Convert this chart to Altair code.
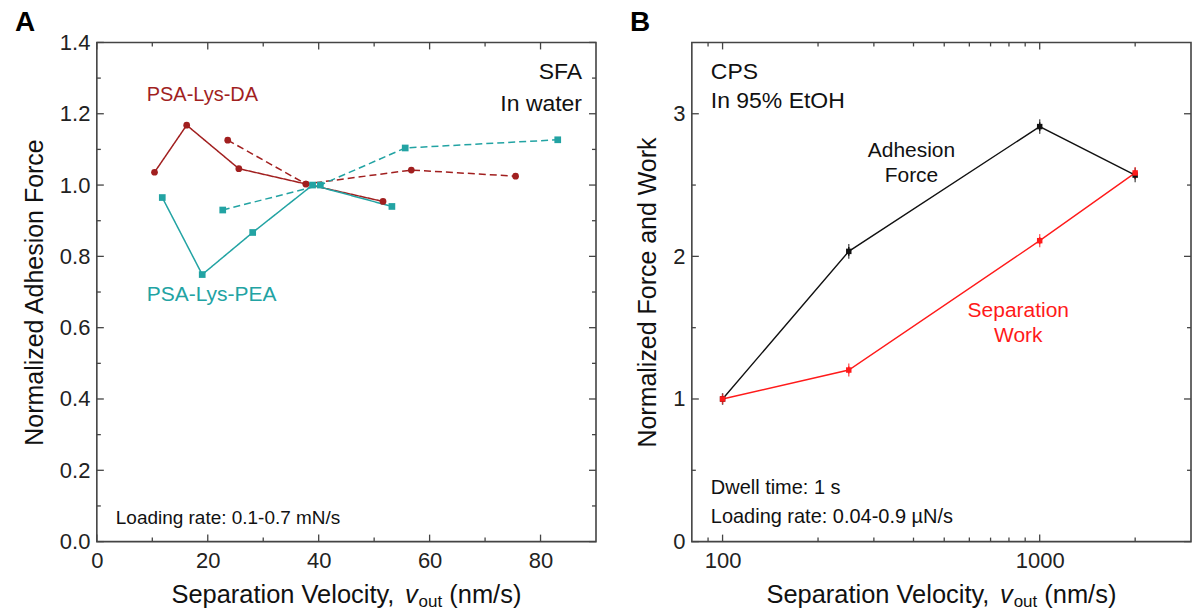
import altair as alt
import pandas as pd

FONT = "Liberation Sans"
DARKRED = "#A11F1F"
TEAL = "#22A3A3"
RED = "#FF1A1A"
FRAME = "#444444"

# ---------------- Panel A data (SFA, in water) ----------------
da_solid_x = [10.4, 16.2, 25.6, 37.7, 51.6]
da_solid_y = [1.036, 1.168, 1.046, 1.003, 0.954]
da_dash_x = [23.6, 37.7, 56.7, 75.5]
da_dash_y = [1.126, 1.003, 1.042, 1.025]
pea_solid_x = [11.8, 19.0, 28.1, 38.9, 53.2]
pea_solid_y = [0.965, 0.749, 0.867, 1.000, 0.940]
pea_dash_x = [22.7, 40.3, 55.6, 83.1]
pea_dash_y = [0.930, 1.000, 1.104, 1.127]

a_x_major = [0, 20, 40, 60, 80]
a_x_minor = [10, 30, 50, 70]
a_y_major = [0.0, 0.2, 0.4, 0.6, 0.8, 1.0, 1.2, 1.4]
a_y_minor = [0.1, 0.3, 0.5, 0.7, 0.9, 1.1, 1.3]

# ---------------- Panel B data (CPS, in 95% EtOH) ----------------
vel = [100, 250, 1000, 2000]
force = [1.0, 2.035, 2.91, 2.57]
force_err = [0.02, 0.03, 0.03, 0.03]
work = [1.0, 1.203, 2.11, 2.585]
work_err = [0.015, 0.025, 0.025, 0.02]

b_x_major = [100, 1000]
b_x_minor = [90, 200, 300, 400, 500, 600, 700, 800, 900, 2000]
b_y_major = [0, 1, 2, 3]
b_y_minor = [0.5, 1.5, 2.5]

W = 500
H = 500

xA = alt.Scale(domain=[0, 90], nice=False, zero=False)
yA = alt.Scale(domain=[0, 1.4], nice=False, zero=False)
xB = alt.Scale(type="log", domain=[80, 3000], nice=False)
yB = alt.Scale(domain=[0, 3.5], nice=False, zero=False)

axXA = alt.Axis(values=a_x_major, format="d", title=None, ticks=False, domain=False,
                grid=False, labelPadding=9, labelFlush=False)
axYA = alt.Axis(values=a_y_major, format=".1f", title="Normalized Adhesion Force",
                ticks=False, domain=False, grid=False, labelPadding=7, titlePadding=12,
                labelFlush=False)
axXB = alt.Axis(values=b_x_major, format="d", title=None, ticks=False, domain=False,
                grid=False, labelPadding=9, labelFlush=False)
axYB = alt.Axis(values=b_y_major, format="d", title="Normalized Force and Work",
                ticks=False, domain=False, grid=False, labelPadding=7, titlePadding=12,
                labelFlush=False)

AW = {'S': 667, 'e': 556, 'p': 556, 'a': 556, 'r': 333, 't': 278, 'i': 222,
      'o': 556, 'n': 556, ' ': 278, 'V': 667, 'l': 222, 'c': 500, 'y': 500,
      ',': 278, '(': 333, ')': 333, 'm': 833, '/': 278, 's': 500, 'u': 556,
      'v': 500}


def tw(s, size):
    return sum(AW.get(ch, 556) for ch in s) * size / 1000.0


def txt(s, x, y, size=20, color="#111111", align="left", baseline="middle",
        style="normal", weight="normal"):
    return alt.Chart(pd.DataFrame({"t": [s]})).mark_text(
        font=FONT, fontSize=size, color=color, align=align, baseline=baseline,
        fontStyle=style, fontWeight=weight
    ).encode(text="t:N", x=alt.value(x), y=alt.value(y))


def xtitle(ybase):
    big, small = 25.5, 17
    p1 = "Separation Velocity,"
    p2 = "v"
    p3 = "out"
    p4 = "(nm/s)"
    sp = tw(" ", big)
    total = tw(p1, big) + sp + tw(p2, big) + 1 + tw(p3, small) + sp + tw(p4, big)
    x0 = W / 2 - total / 2
    x1 = x0 + tw(p1, big) + sp
    x2 = x1 + tw(p2, big) + 1
    x3 = x2 + tw(p3, small) + sp
    return [
        txt(p1, x0, ybase, size=big, baseline="alphabetic"),
        txt(p2, x1, ybase, size=big, baseline="alphabetic", style="italic"),
        txt(p3, x2, ybase + 5, size=small, baseline="alphabetic"),
        txt(p4, x3, ybase, size=big, baseline="alphabetic"),
    ]


def tick_layers(xs, ys, axx, axy, xmaj, xmin, ymaj, ymin):
    layers = []
    for vals, ln in ((xmaj, 7), (xmin, 4)):
        d = pd.DataFrame({"v": vals})
        for y0, y1 in ((H, H - ln), (0, ln)):
            layers.append(alt.Chart(d).mark_rule(color=FRAME, strokeWidth=1.3).encode(
                x=alt.X("v:Q", scale=xs, axis=axx),
                y=alt.value(y0), y2=alt.value(y1)))
    for vals, ln in ((ymaj, 7), (ymin, 4)):
        d = pd.DataFrame({"v": vals})
        for x0, x1 in ((0, ln), (W, W - ln)):
            layers.append(alt.Chart(d).mark_rule(color=FRAME, strokeWidth=1.3).encode(
                y=alt.Y("v:Q", scale=ys, axis=axy),
                x=alt.value(x0), x2=alt.value(x1)))
    return layers


# ---------------- Panel A ----------------
rows = []
for name, mat, sty, xs_, ys_ in (
        ("DA solid", "DA", "solid", da_solid_x, da_solid_y),
        ("DA dash", "DA", "dash", da_dash_x, da_dash_y),
        ("PEA solid", "PEA", "solid", pea_solid_x, pea_solid_y),
        ("PEA dash", "PEA", "dash", pea_dash_x, pea_dash_y)):
    for i, (a, b) in enumerate(zip(xs_, ys_)):
        rows.append({"series": name, "mat": mat, "sty": sty, "x": a, "y": b, "o": i})
dfA = pd.DataFrame(rows)

colA = alt.Color("mat:N", scale=alt.Scale(domain=["DA", "PEA"], range=[DARKRED, TEAL]), legend=None)

baseA = alt.Chart(dfA).encode(
    x=alt.X("x:Q", scale=xA, axis=axXA),
    y=alt.Y("y:Q", scale=yA, axis=axYA),
)
linesA = baseA.mark_line(strokeWidth=1.5).encode(
    color=colA,
    strokeDash=alt.StrokeDash("sty:N", scale=alt.Scale(domain=["solid", "dash"], range=[[1, 0], [7, 4]]), legend=None),
    detail="series:N", order="o:Q")
ptsA = baseA.mark_point(filled=True, opacity=1, size=45).encode(
    color=colA,
    shape=alt.Shape("mat:N", scale=alt.Scale(domain=["DA", "PEA"], range=["circle", "square"]), legend=None))

layersA = [linesA, ptsA] + tick_layers(xA, yA, axXA, axYA, a_x_major, a_x_minor, a_y_major, a_y_minor)
layersA += [
    txt("A", -82, -19, size=28, weight="bold", color="#000000"),
    txt("PSA-Lys-DA", 50, 53, size=20, color=DARKRED),
    txt("SFA", 486, 30, size=23, align="right"),
    txt("In water", 486, 62, size=23, align="right"),
    txt("PSA-Lys-PEA", 50, 253, size=21, color=TEAL),
    txt("Loading rate: 0.1-0.7 mN/s", 19, 476, size=19),
] + xtitle(561)
panelA = alt.layer(*layersA).properties(width=W, height=H)

# ---------------- Panel B ----------------
dfB = pd.DataFrame({
    "v": vel * 2,
    "y": force + work,
    "e": force_err + work_err,
    "s": ["force"] * len(vel) + ["work"] * len(vel),
})
dfB["lo"] = dfB["y"] - dfB["e"]
dfB["hi"] = dfB["y"] + dfB["e"]
colB = alt.Color("s:N", scale=alt.Scale(domain=["force", "work"], range=["#111111", RED]), legend=None)

baseB = alt.Chart(dfB).encode(
    x=alt.X("v:Q", scale=xB, axis=axXB),
    color=colB,
)
linesB = baseB.mark_line(strokeWidth=1.4).encode(
    y=alt.Y("y:Q", scale=yB, axis=axYB), detail="s:N")
errB = baseB.mark_rule(strokeWidth=1.4).encode(y=alt.Y("lo:Q", scale=yB, axis=axYB), y2="hi:Q")
capLo = baseB.mark_tick(thickness=1.4, size=6).encode(y=alt.Y("lo:Q", scale=yB, axis=axYB))
capHi = baseB.mark_tick(thickness=1.4, size=6).encode(y=alt.Y("hi:Q", scale=yB, axis=axYB))
ptsB = baseB.mark_point(filled=True, opacity=1, shape="square", size=30).encode(
    y=alt.Y("y:Q", scale=yB, axis=axYB))

layersB = [linesB, errB, capLo, capHi, ptsB] + tick_layers(xB, yB, axXB, axYB, b_x_major, b_x_minor, b_y_major, b_y_minor)
layersB += [
    txt("B", -62, -19, size=28, weight="bold", color="#000000"),
    txt("CPS", 19, 30, size=23),
    txt("In 95% EtOH", 19, 59, size=23),
    txt("Adhesion", 220, 109, size=21, align="center"),
    txt("Force", 220, 134, size=21, align="center"),
    txt("Separation", 327, 269, size=21, align="center", color=RED),
    txt("Work", 327, 294, size=21, align="center", color=RED),
    txt("Dwell time: 1 s", 19, 446, size=20),
    txt("Loading rate: 0.04-0.9 µN/s", 19, 475, size=20),
] + xtitle(561)
panelB = alt.layer(*layersB).properties(width=W, height=H)

chart = alt.hconcat(panelA, panelB, spacing=96, bounds="flush").resolve_scale(
    color="independent", shape="independent", strokeDash="independent"
).properties(
    padding={"left": 14, "top": 8, "right": 0, "bottom": 0}
).configure_view(
    stroke=FRAME, strokeWidth=1.6
).configure_axis(
    labelFont=FONT, labelFontSize=22, labelColor="#222222",
    titleFont=FONT, titleFontSize=25, titleFontWeight="normal", titleColor="#111111",
)

chart.save("out.html", embed_options={"renderer": "svg", "actions": False})
